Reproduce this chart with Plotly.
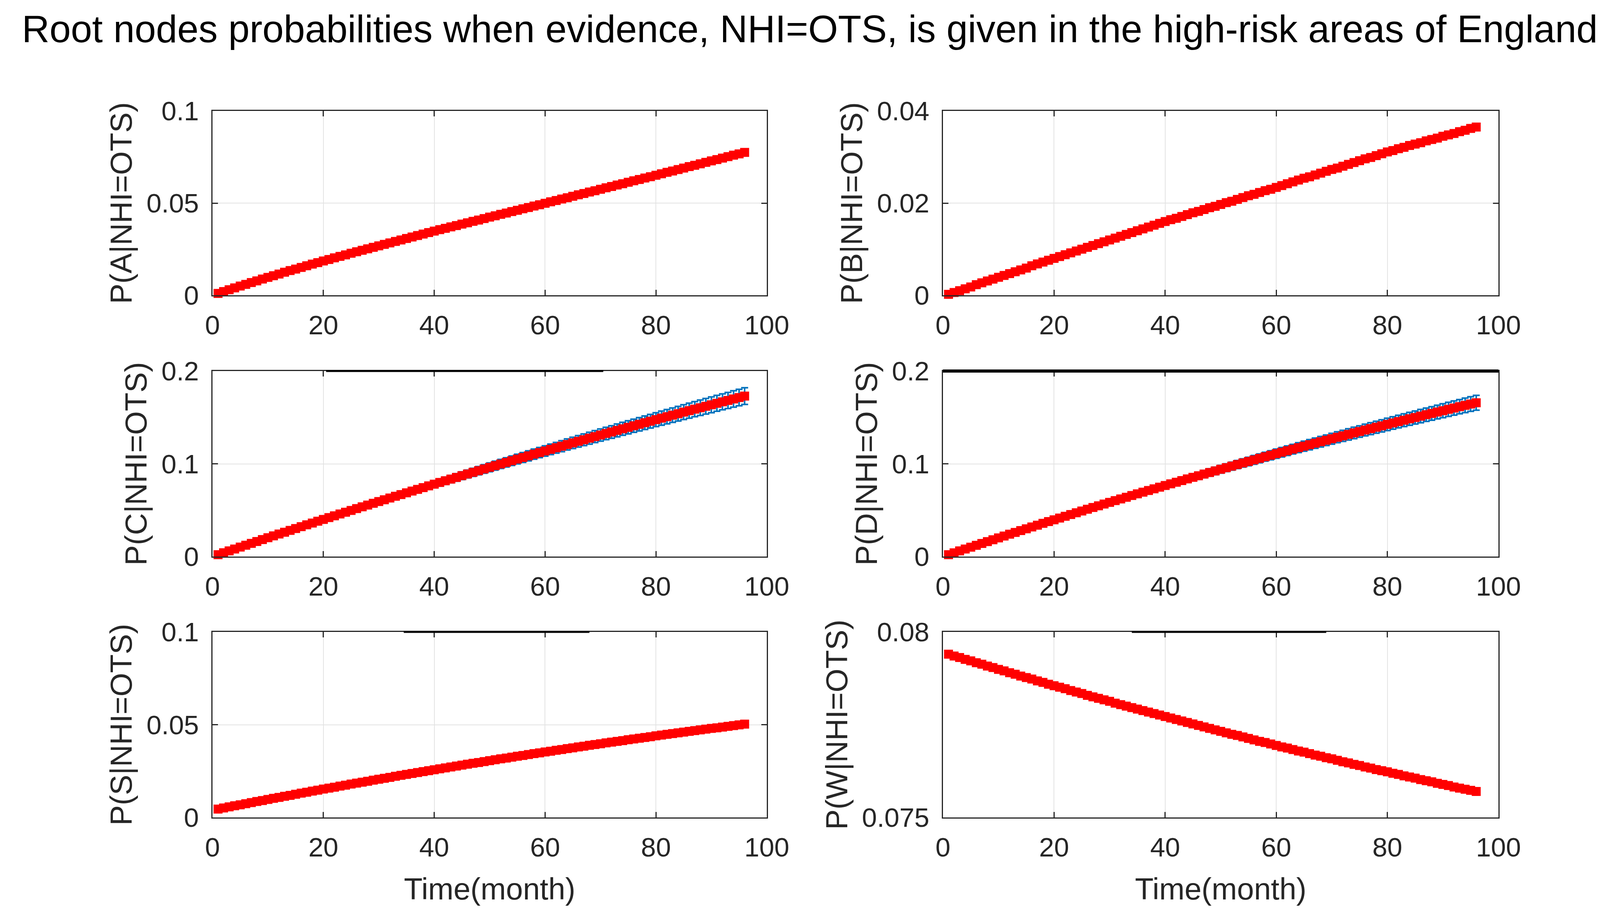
import plotly.graph_objects as go
from plotly.subplots import make_subplots

# ---------------- data ----------------
months = list(range(1, 97))

p_A = [0.0010, 0.0020, 0.0030, 0.0040, 0.0050, 0.0059, 0.0069, 0.0078, 0.0088, 0.0097,
       0.0106, 0.0115, 0.0125, 0.0134, 0.0142, 0.0151, 0.0160, 0.0169, 0.0177, 0.0186,
       0.0194, 0.0203, 0.0211, 0.0219, 0.0228, 0.0236, 0.0244, 0.0252, 0.0260, 0.0268,
       0.0276, 0.0284, 0.0292, 0.0300, 0.0308, 0.0316, 0.0324, 0.0332, 0.0340, 0.0348,
       0.0356, 0.0363, 0.0371, 0.0378, 0.0386, 0.0393, 0.0401, 0.0408, 0.0416, 0.0424,
       0.0431, 0.0439, 0.0446, 0.0454, 0.0461, 0.0469, 0.0476, 0.0484, 0.0491, 0.0499,
       0.0507, 0.0514, 0.0522, 0.0529, 0.0537, 0.0545, 0.0552, 0.0560, 0.0567, 0.0575,
       0.0583, 0.0590, 0.0598, 0.0605, 0.0613, 0.0621, 0.0628, 0.0636, 0.0643, 0.0651,
       0.0659, 0.0667, 0.0674, 0.0682, 0.0690, 0.0698, 0.0705, 0.0713, 0.0721, 0.0729,
       0.0736, 0.0744, 0.0752, 0.0760, 0.0767, 0.0775]

p_B = [0.0002, 0.0006, 0.0010, 0.0014, 0.0018, 0.0023, 0.0027, 0.0031, 0.0035, 0.0039,
       0.0043, 0.0047, 0.0051, 0.0055, 0.0059, 0.0064, 0.0068, 0.0072, 0.0076, 0.0080,
       0.0084, 0.0088, 0.0092, 0.0096, 0.0100, 0.0104, 0.0108, 0.0112, 0.0116, 0.0120,
       0.0124, 0.0128, 0.0132, 0.0136, 0.0140, 0.0144, 0.0148, 0.0152, 0.0156, 0.0160,
       0.0164, 0.0167, 0.0171, 0.0175, 0.0179, 0.0182, 0.0186, 0.0190, 0.0193, 0.0197,
       0.0201, 0.0204, 0.0208, 0.0212, 0.0216, 0.0219, 0.0223, 0.0227, 0.0230, 0.0234,
       0.0238, 0.0242, 0.0246, 0.0250, 0.0254, 0.0257, 0.0261, 0.0265, 0.0269, 0.0273,
       0.0276, 0.0280, 0.0284, 0.0288, 0.0292, 0.0296, 0.0299, 0.0303, 0.0307, 0.0311,
       0.0314, 0.0318, 0.0321, 0.0325, 0.0328, 0.0331, 0.0335, 0.0338, 0.0341, 0.0345,
       0.0348, 0.0351, 0.0355, 0.0358, 0.0362, 0.0365]

p_C = [0.0020, 0.0041, 0.0061, 0.0081, 0.0102, 0.0122, 0.0142, 0.0162, 0.0183, 0.0203,
       0.0223, 0.0243, 0.0262, 0.0282, 0.0302, 0.0322, 0.0342, 0.0361, 0.0381, 0.0400,
       0.0420, 0.0439, 0.0459, 0.0478, 0.0497, 0.0517, 0.0536, 0.0555, 0.0574, 0.0593,
       0.0612, 0.0631, 0.0650, 0.0668, 0.0687, 0.0706, 0.0724, 0.0743, 0.0762, 0.0780,
       0.0799, 0.0817, 0.0835, 0.0853, 0.0872, 0.0890, 0.0908, 0.0926, 0.0944, 0.0962,
       0.0980, 0.0998, 0.1015, 0.1033, 0.1051, 0.1068, 0.1086, 0.1104, 0.1121, 0.1138,
       0.1156, 0.1173, 0.1190, 0.1208, 0.1225, 0.1242, 0.1259, 0.1276, 0.1293, 0.1310,
       0.1327, 0.1343, 0.1360, 0.1377, 0.1393, 0.1410, 0.1426, 0.1443, 0.1459, 0.1476,
       0.1492, 0.1508, 0.1524, 0.1540, 0.1557, 0.1573, 0.1589, 0.1604, 0.1620, 0.1636,
       0.1652, 0.1668, 0.1683, 0.1699, 0.1714, 0.1730]

err_C = [0.0001, 0.0002, 0.0003, 0.0004, 0.0005, 0.0006, 0.0007, 0.0008, 0.0008, 0.0009,
         0.0010, 0.0011, 0.0012, 0.0013, 0.0014, 0.0015, 0.0016, 0.0017, 0.0018, 0.0019,
         0.0020, 0.0021, 0.0022, 0.0023, 0.0024, 0.0024, 0.0025, 0.0026, 0.0027, 0.0028,
         0.0029, 0.0030, 0.0031, 0.0032, 0.0033, 0.0034, 0.0035, 0.0036, 0.0037, 0.0038,
         0.0039, 0.0039, 0.0040, 0.0041, 0.0042, 0.0043, 0.0044, 0.0045, 0.0046, 0.0047,
         0.0048, 0.0049, 0.0050, 0.0051, 0.0052, 0.0053, 0.0054, 0.0055, 0.0055, 0.0056,
         0.0057, 0.0058, 0.0059, 0.0060, 0.0061, 0.0062, 0.0063, 0.0064, 0.0065, 0.0066,
         0.0067, 0.0068, 0.0069, 0.0070, 0.0071, 0.0071, 0.0072, 0.0073, 0.0074, 0.0075,
         0.0076, 0.0077, 0.0078, 0.0079, 0.0080, 0.0081, 0.0082, 0.0083, 0.0084, 0.0085,
         0.0086, 0.0086, 0.0087, 0.0088, 0.0089, 0.0090]

p_D = [0.0020, 0.0040, 0.0061, 0.0081, 0.0101, 0.0121, 0.0141, 0.0161, 0.0181, 0.0201,
       0.0221, 0.0241, 0.0260, 0.0280, 0.0299, 0.0319, 0.0338, 0.0358, 0.0377, 0.0396,
       0.0415, 0.0434, 0.0453, 0.0472, 0.0491, 0.0510, 0.0529, 0.0547, 0.0566, 0.0584,
       0.0603, 0.0621, 0.0639, 0.0658, 0.0676, 0.0694, 0.0712, 0.0730, 0.0748, 0.0766,
       0.0784, 0.0801, 0.0819, 0.0837, 0.0854, 0.0871, 0.0889, 0.0906, 0.0923, 0.0941,
       0.0958, 0.0975, 0.0992, 0.1009, 0.1025, 0.1042, 0.1059, 0.1076, 0.1092, 0.1109,
       0.1125, 0.1141, 0.1158, 0.1174, 0.1190, 0.1206, 0.1222, 0.1238, 0.1254, 0.1270,
       0.1286, 0.1301, 0.1317, 0.1333, 0.1348, 0.1364, 0.1379, 0.1394, 0.1409, 0.1425,
       0.1440, 0.1455, 0.1470, 0.1485, 0.1499, 0.1514, 0.1529, 0.1543, 0.1558, 0.1572,
       0.1587, 0.1601, 0.1616, 0.1630, 0.1644, 0.1658]

err_D = [0.0001, 0.0002, 0.0002, 0.0003, 0.0004, 0.0005, 0.0006, 0.0007, 0.0007, 0.0008,
         0.0009, 0.0010, 0.0011, 0.0012, 0.0012, 0.0013, 0.0014, 0.0015, 0.0016, 0.0017,
         0.0017, 0.0018, 0.0019, 0.0020, 0.0021, 0.0022, 0.0022, 0.0023, 0.0024, 0.0025,
         0.0026, 0.0027, 0.0027, 0.0028, 0.0029, 0.0030, 0.0031, 0.0032, 0.0032, 0.0033,
         0.0034, 0.0035, 0.0036, 0.0037, 0.0037, 0.0038, 0.0039, 0.0040, 0.0041, 0.0042,
         0.0042, 0.0043, 0.0044, 0.0045, 0.0046, 0.0047, 0.0047, 0.0048, 0.0049, 0.0050,
         0.0051, 0.0052, 0.0052, 0.0053, 0.0054, 0.0055, 0.0056, 0.0057, 0.0057, 0.0058,
         0.0059, 0.0060, 0.0061, 0.0062, 0.0062, 0.0063, 0.0064, 0.0065, 0.0066, 0.0067,
         0.0067, 0.0068, 0.0069, 0.0070, 0.0071, 0.0072, 0.0072, 0.0073, 0.0074, 0.0075,
         0.0076, 0.0077, 0.0077, 0.0078, 0.0079, 0.0080]

p_S = [0.0045, 0.0051, 0.0057, 0.0063, 0.0068, 0.0074, 0.0080, 0.0086, 0.0091, 0.0097,
       0.0103, 0.0108, 0.0114, 0.0119, 0.0125, 0.0131, 0.0136, 0.0142, 0.0147, 0.0153,
       0.0158, 0.0163, 0.0169, 0.0174, 0.0180, 0.0185, 0.0190, 0.0195, 0.0201, 0.0206,
       0.0211, 0.0216, 0.0222, 0.0227, 0.0232, 0.0237, 0.0242, 0.0247, 0.0252, 0.0257,
       0.0262, 0.0267, 0.0272, 0.0277, 0.0282, 0.0287, 0.0292, 0.0296, 0.0301, 0.0306,
       0.0311, 0.0316, 0.0320, 0.0325, 0.0330, 0.0334, 0.0339, 0.0344, 0.0348, 0.0353,
       0.0357, 0.0362, 0.0366, 0.0371, 0.0375, 0.0380, 0.0384, 0.0389, 0.0393, 0.0397,
       0.0402, 0.0406, 0.0410, 0.0414, 0.0419, 0.0423, 0.0427, 0.0431, 0.0435, 0.0440,
       0.0444, 0.0448, 0.0452, 0.0456, 0.0460, 0.0464, 0.0468, 0.0472, 0.0476, 0.0480,
       0.0483, 0.0487, 0.0491, 0.0495, 0.0499, 0.0503]

p_W = [0.07940, 0.07935, 0.07931, 0.07926, 0.07922, 0.07917, 0.07913, 0.07908, 0.07904, 0.07899,
       0.07895, 0.07890, 0.07886, 0.07881, 0.07877, 0.07873, 0.07868, 0.07864, 0.07859, 0.07855,
       0.07851, 0.07847, 0.07842, 0.07838, 0.07834, 0.07829, 0.07825, 0.07821, 0.07817, 0.07813,
       0.07808, 0.07804, 0.07800, 0.07796, 0.07792, 0.07788, 0.07784, 0.07780, 0.07776, 0.07772,
       0.07768, 0.07764, 0.07760, 0.07756, 0.07752, 0.07748, 0.07744, 0.07740, 0.07736, 0.07732,
       0.07728, 0.07724, 0.07721, 0.07717, 0.07713, 0.07709, 0.07705, 0.07702, 0.07698, 0.07694,
       0.07690, 0.07687, 0.07683, 0.07679, 0.07676, 0.07672, 0.07668, 0.07665, 0.07661, 0.07658,
       0.07654, 0.07650, 0.07647, 0.07643, 0.07640, 0.07636, 0.07633, 0.07629, 0.07626, 0.07623,
       0.07619, 0.07616, 0.07612, 0.07609, 0.07606, 0.07602, 0.07599, 0.07596, 0.07592, 0.07589,
       0.07586, 0.07582, 0.07579, 0.07576, 0.07573, 0.07570]

x_ticks = [0, 20, 40, 60, 80, 100]

panels = [
    dict(name="A", y=p_A, err=None, yr=[0, 0.1], yt=[0, 0.05, 0.1], ytt=["0", "0.05", "0.1"]),
    dict(name="B", y=p_B, err=None, yr=[0, 0.04], yt=[0, 0.02, 0.04], ytt=["0", "0.02", "0.04"]),
    dict(name="C", y=p_C, err=err_C, yr=[0, 0.2], yt=[0, 0.1, 0.2], ytt=["0", "0.1", "0.2"]),
    dict(name="D", y=p_D, err=err_D, yr=[0, 0.2], yt=[0, 0.1, 0.2], ytt=["0", "0.1", "0.2"]),
    dict(name="S", y=p_S, err=None, yr=[0, 0.1], yt=[0, 0.05, 0.1], ytt=["0", "0.05", "0.1"]),
    dict(name="W", y=p_W, err=None, yr=[0.075, 0.08], yt=[0.075, 0.08], ytt=["0.075", "0.08"]),
]

title_text = "Root nodes probabilities when evidence, NHI=OTS, is given in the high-risk areas of England"

# ---------------- styling ----------------
# the page body adds an 8 px margin, so the figure is a little smaller than the window
OFF = 8
W_PX, H_PX = 4138 - OFF, 2330 - OFF
FONT = "Liberation Sans, Arial, Helvetica, sans-serif"
AX = "#262626"
RED = "#ff0000"
BLUE = "#0072BD"


def xd(a, b):
    return [(a - OFF) / W_PX, (b - OFF) / W_PX]


def yd(top, bottom):
    return [1 - (bottom - OFF) / H_PX, 1 - (top - OFF) / H_PX]


col_dom = [xd(544, 1963), xd(2414, 3836)]
row_dom = [yd(284, 756), yd(950, 1425), yd(1618, 2093)]

fig = make_subplots(rows=3, cols=2)

for i, p in enumerate(panels):
    r, c = i // 2 + 1, i % 2 + 1
    if p["err"] is not None:
        fig.add_trace(go.Scatter(
            x=months, y=p["y"], mode="lines",
            line=dict(color=BLUE, width=3),
            error_y=dict(type="data", array=p["err"], visible=True,
                         color=BLUE, thickness=4, width=9),
            showlegend=False, hoverinfo="skip", cliponaxis=False), row=r, col=c)
    fig.add_trace(go.Scatter(
        x=months, y=p["y"], mode="lines+markers",
        line=dict(color=RED, width=10),
        marker=dict(symbol="square", size=23, color=RED, line=dict(width=0)),
        showlegend=False, cliponaxis=False), row=r, col=c)

    ax_idx = i + 1
    xa = "xaxis" if ax_idx == 1 else f"xaxis{ax_idx}"
    ya = "yaxis" if ax_idx == 1 else f"yaxis{ax_idx}"
    common = dict(showline=True, mirror="ticks", linecolor=AX, linewidth=3,
                  ticks="inside", ticklen=14, tickwidth=3, tickcolor=AX,
                  showgrid=True, gridcolor="#e3e3e3", gridwidth=2, zeroline=False,
                  automargin=False,
                  tickfont=dict(family=FONT, size=69, color=AX))
    xaxis = dict(common, domain=col_dom[c - 1], range=[0, 100],
                 tickvals=x_ticks, ticktext=[str(v) for v in x_ticks],
                 ticklabelstandoff=14)
    if r == 3:
        xaxis["title"] = dict(text="Time(month)", standoff=42,
                              font=dict(family=FONT, size=78, color=AX))
    yaxis = dict(common, domain=row_dom[r - 1], range=p["yr"],
                 tickvals=p["yt"], ticktext=p["ytt"], ticklabelstandoff=18,
                 title=dict(text=f"P({p['name']}|NHI=OTS)", standoff=12,
                            font=dict(family=FONT, size=78, color=AX)))
    fig.update_layout({xa: xaxis, ya: yaxis})

# small border over-draw artefacts visible in the original image
shapes = [
    dict(type="line", xref="x4 domain", yref="y4 domain", x0=0, x1=1, y0=1, y1=1,
         line=dict(color="black", width=8)),
    dict(type="line", xref="x3", yref="y3 domain", x0=20.5, x1=70.5, y0=1, y1=1,
         line=dict(color="black", width=5)),
    dict(type="line", xref="x5", yref="y5 domain", x0=34.5, x1=68, y0=1, y1=1,
         line=dict(color="black", width=5)),
    dict(type="line", xref="x6", yref="y6 domain", x0=34, x1=69, y0=1, y1=1,
         line=dict(color="black", width=5)),
]

fig.update_layout(
    width=W_PX, height=H_PX,
    margin=dict(l=0, r=0, t=0, b=0, autoexpand=False),
    paper_bgcolor="white", plot_bgcolor="white",
    font=dict(family=FONT, color=AX),
    title=dict(text=title_text, x=0.5, xanchor="center", y=1 - (74 - OFF) / H_PX, yanchor="middle",
               font=dict(family=FONT, size=98, color="black")),
    shapes=shapes,
    showlegend=False,
)

fig.write_html("out.html")
